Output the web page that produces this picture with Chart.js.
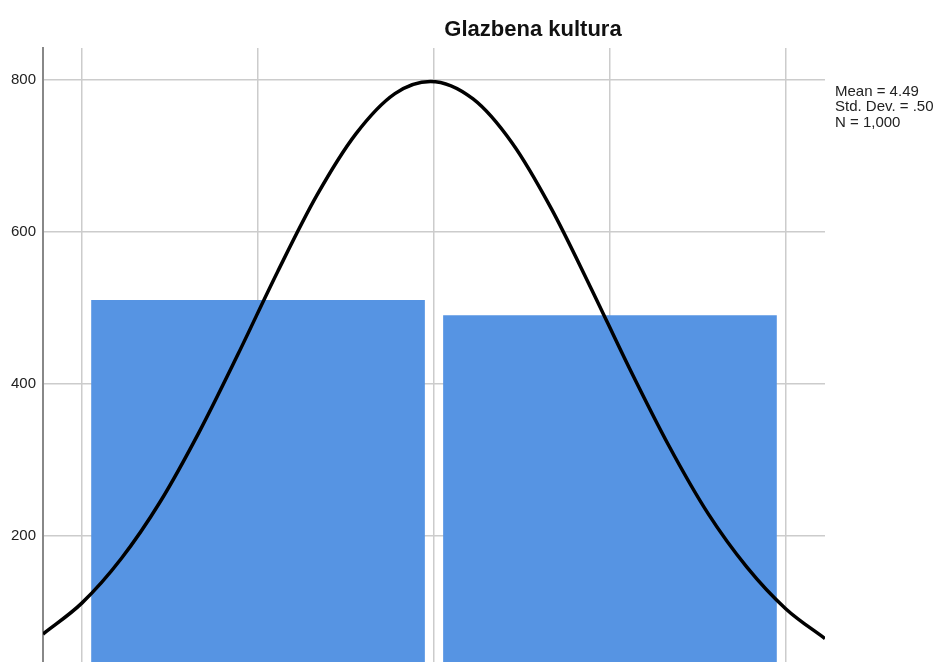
<!DOCTYPE html>
<html>
<head>
<meta charset="utf-8">
<script src="https://cdn.jsdelivr.net/npm/chart.js@4.4.1/dist/chart.umd.min.js"></script>
<style>
  html, body { margin: 0; padding: 0; background: #fff; overflow: hidden; }
  #wrap { width: 939px; height: 740px; }
</style>
</head>
<body>
<div id="wrap"><canvas id="chart" width="939" height="740"></canvas></div>
<script>
// histogram: counts per value
const binValues = [4, 5];
const binCounts = [510, 490];

// normal curve
const curveX = [3.389, 3.5, 3.611, 3.722, 3.833, 3.944, 4.056, 4.167, 4.278, 4.389, 4.49,
                4.611, 4.722, 4.833, 4.944, 5.056, 5.167, 5.278, 5.389, 5.5, 5.611];
const curveY = [71, 112, 170, 245, 337, 440, 548, 648, 729, 782, 798,
                775, 717, 631, 528, 420, 319, 230, 159, 104, 65];

// axis ticks
const xTicks = [3.5, 4.0, 4.5, 5.0, 5.5];
const yTicks = [0, 200, 400, 600, 800];

const titleText = 'Glazbena kultura';
const statsLines = ['Mean = 4.49', 'Std. Dev. = .50', 'N = 1,000'];

const FONT = "'Liberation Sans', Arial, sans-serif";

// draws the title and the stats box
const textPlugin = {
  id: 'texts',
  afterDraw(chart) {
    const ctx = chart.ctx;
    ctx.save();
    ctx.fillStyle = '#111';
    ctx.font = 'bold 22px ' + FONT;
    ctx.textAlign = 'center';
    ctx.textBaseline = 'alphabetic';
    ctx.fillText(titleText, 533, 36);

    ctx.fillStyle = '#222';
    ctx.font = '15px ' + FONT;
    ctx.textAlign = 'left';
    statsLines.forEach((line, i) => {
      ctx.fillText(line, 835, 96 + i * 15.3);
    });
    ctx.restore();
  }
};

new Chart(document.getElementById('chart'), {
  data: {
    datasets: [
      {
        type: 'line',
        data: curveX.map((x, i) => ({ x: x, y: curveY[i] })),
        borderColor: '#000',
        borderWidth: 3.5,
        pointRadius: 0,
        cubicInterpolationMode: 'monotone',
        fill: false,
        order: 0
      },
      {
        type: 'bar',
        data: binValues.map((v, i) => ({ x: v, y: binCounts[i] })),
        backgroundColor: '#5694e3',
        borderWidth: 0,
        barThickness: 333,
        order: 1
      }
    ]
  },
  options: {
    responsive: false,
    animation: false,
    devicePixelRatio: 1,
    layout: { padding: { top: 48, right: 114, left: 0, bottom: 0 } },
    plugins: {
      legend: { display: false },
      tooltip: { enabled: false },
      title: { display: false }
    },
    scales: {
      x: {
        type: 'linear',
        min: 3.389,
        max: 5.611,
        offset: false,
        afterBuildTicks: scale => { scale.ticks = xTicks.map(v => ({ value: v })); },
        afterFit: scale => { scale.height = 52; },
        ticks: { display: false },
        grid: { color: '#cccccc', lineWidth: 1.5, drawTicks: false, offset: false },
        border: { display: false }
      },
      y: {
        type: 'linear',
        min: 0,
        max: 842,
        afterBuildTicks: scale => { scale.ticks = yTicks.map(v => ({ value: v })); },
        afterFit: scale => { scale.width = 43; },
        ticks: {
          color: '#222',
          padding: 7,
          font: { family: FONT, size: 15 }
        },
        grid: { color: '#cccccc', lineWidth: 1.5, drawTicks: false },
        border: { display: true, color: '#888', width: 2 }
      }
    }
  },
  plugins: [textPlugin]
});
</script>
</body>
</html>
